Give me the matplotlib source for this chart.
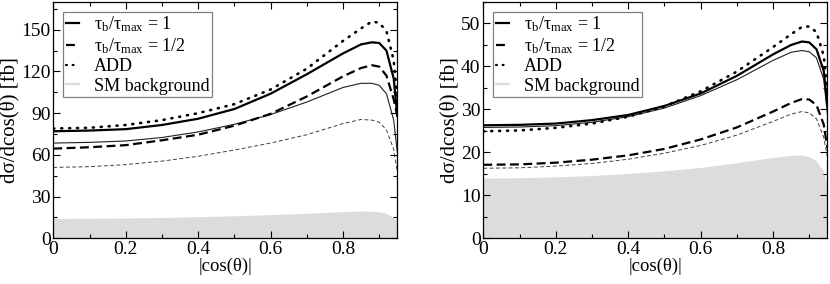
import numpy as np
import matplotlib
matplotlib.use('Agg')
import matplotlib.pyplot as plt
from matplotlib.ticker import MultipleLocator
from matplotlib.lines import Line2D

plt.rcParams['font.family'] = ['Liberation Serif', 'DejaVu Serif']
plt.rcParams['mathtext.fontset'] = 'custom'
plt.rcParams['mathtext.rm'] = 'Liberation Serif'
plt.rcParams['mathtext.it'] = 'Liberation Serif:italic'

# |cos(theta)| grid
cos_theta = [0, 0.1, 0.2, 0.3, 0.4, 0.5, 0.6, 0.7, 0.8, 0.85, 0.88, 0.9, 0.92, 0.94, 0.95]

# left panel [fb]
left_tau1 = [77, 77.5, 78.5, 81.5, 86, 93, 104, 118, 133, 139.5, 141, 140.5, 135, 115, 88]
left_tau1_thin = [68.5, 69, 70, 72.5, 76.5, 82, 89, 98, 108.5, 111.5, 111.5, 110, 104, 85, 62]
left_tau12 = [64.5, 65.5, 67, 70.5, 74.5, 81, 89.5, 102, 116.5, 122.5, 124.5, 123.5, 117, 100, 88]
left_tau12_thin = [51, 51.5, 53, 55.5, 59, 63.5, 68.5, 74.5, 82.5, 85.5, 85, 83.5, 78, 64, 48]
left_add = [79, 79.5, 81.5, 85, 90, 96.5, 107, 122, 142, 151, 156, 155, 149, 128, 100]
left_sm = [14.3, 14.4, 14.6, 15, 15.5, 16.2, 17, 18, 19.2, 19.6, 19.5, 19, 17.8, 15, 12]

# right panel [fb]
right_tau1 = [26.3, 26.4, 26.7, 27.5, 28.7, 30.8, 33.7, 37.8, 42.8, 45.0, 45.8, 45.6, 44.0, 39.0, 31]
right_tau1_thin = [25.8, 25.9, 26.2, 27.0, 28.3, 30.3, 33.2, 36.9, 41.4, 43.3, 43.7, 43.4, 42.0, 37.0, 29]
right_tau12 = [17.1, 17.2, 17.6, 18.3, 19.3, 20.8, 23.0, 25.8, 29.5, 31.5, 32.4, 32.3, 31.0, 26.5, 21]
right_tau12_thin = [16.3, 16.4, 16.8, 17.4, 18.4, 19.8, 21.6, 24.0, 27.2, 28.9, 29.5, 29.2, 27.8, 23.5, 19]
right_add = [24.9, 25.1, 25.7, 26.7, 28.3, 30.7, 34.2, 38.8, 44.5, 47.5, 49.2, 49.3, 48.0, 42.5, 34]
right_sm = [14.0, 14.1, 14.3, 14.6, 15.1, 15.7, 16.5, 17.6, 18.8, 19.3, 19.4, 19.0, 18.0, 15.5, 12]

labels = ['τ$_\\mathrm{b}$/τ$_\\mathrm{max}$ = 1', 'τ$_\\mathrm{b}$/τ$_\\mathrm{max}$ = 1/2',
          'ADD', 'SM background']

SM_GRAY = '#dcdcdc'
DOTS = (0, (0.4, 2.6))


def draw_panel(ax, tau1, tau1_thin, tau12, tau12_thin, add, sm, ymax, ymajor):
    x = np.array(cos_theta)
    ax.fill_between(x, 0, sm, color=SM_GRAY, lw=0, zorder=1)
    ax.plot(x, tau12_thin, color='#404040', lw=0.7, ls=(0, (4, 2.5)), zorder=2)
    ax.plot(x, tau1_thin, color='#202020', lw=0.8, zorder=2)
    ax.plot(x, tau12, color='black', lw=1.6, ls=(0, (4, 2)), zorder=3)
    ax.plot(x, add, color='black', lw=1.9, ls=DOTS,
            dash_capstyle='round', zorder=3)
    ax.plot(x, tau1, color='black', lw=1.6, zorder=4)

    ax.set_xlim(0, 0.95)
    ax.set_ylim(0, ymax)
    ax.xaxis.set_minor_locator(MultipleLocator(0.1))
    ax.yaxis.set_major_locator(MultipleLocator(ymajor))
    ax.yaxis.set_minor_locator(MultipleLocator(ymajor / 2))
    ax.set_xticks([0, 0.2, 0.4, 0.6, 0.8])
    ax.set_xticklabels(['0', '0.2', '0.4', '0.6', '0.8'])
    ax.tick_params(which='both', direction='in', top=True, right=True,
                   labelsize=14, width=0.8, pad=2)
    ax.tick_params(which='major', length=5)
    ax.tick_params(which='minor', length=3)
    for s in ax.spines.values():
        s.set_linewidth(0.9)

    ax.set_xlabel('|cos(θ)|', fontsize=13.5, labelpad=0)
    ax.set_ylabel('dσ/dcos(θ) [fb]', fontsize=15, labelpad=1)

    handles = [
        Line2D([], [], color='black', lw=1.6),
        Line2D([], [], color='black', lw=1.6, ls=(0, (4, 2))),
        Line2D([], [], color='black', lw=1.6, ls=DOTS, dash_capstyle='round'),
        Line2D([], [], color=SM_GRAY, lw=1.6),
    ]
    leg = ax.legend(handles, labels, loc='upper left', fontsize=13,
                    frameon=True, fancybox=False, framealpha=1,
                    edgecolor='#808080', borderpad=0.15, labelspacing=0.12,
                    handlelength=0.75, handletextpad=0.8, borderaxespad=0.55)
    leg.get_frame().set_linewidth(0.9)


fig = plt.figure(figsize=(8.3, 2.84), dpi=100)
ax1 = fig.add_axes([0.0642, 0.161, 0.4145, 0.832])
ax2 = fig.add_axes([0.5823, 0.161, 0.4145, 0.832])

draw_panel(ax1, left_tau1, left_tau1_thin, left_tau12, left_tau12_thin,
           left_add, left_sm, 170, 30)
draw_panel(ax2, right_tau1, right_tau1_thin, right_tau12, right_tau12_thin,
           right_add, right_sm, 55, 10)

fig.savefig('out.png', dpi=100)
